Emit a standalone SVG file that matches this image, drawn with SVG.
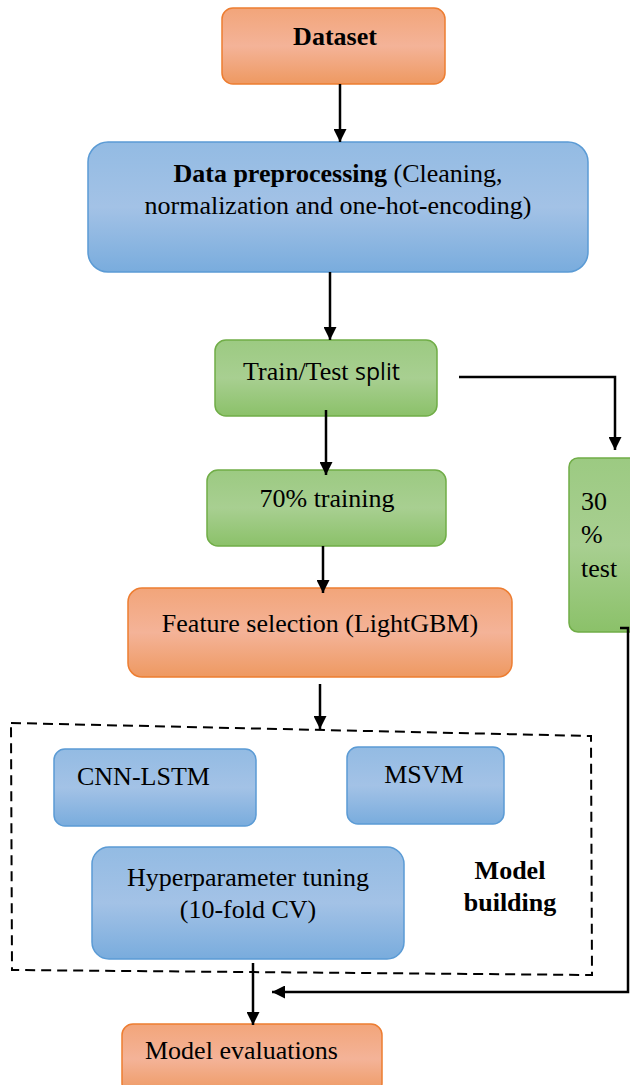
<svg xmlns="http://www.w3.org/2000/svg" width="630" height="1085" viewBox="0 0 630 1085">
  <style>
    text { font-family: "Liberation Serif", "Times New Roman", serif; font-size: 26px; fill: #000; }
    .b { font-weight: bold; }
    .sans { font-family: "Open Sans", "Liberation Sans", sans-serif; font-size: 23px; }
    .orange { fill: url(#gOrange); stroke: #ED7D31; stroke-width: 1.5; }
    .blue { fill: url(#gBlue); stroke: #5B9BD5; stroke-width: 1.5; }
    .green { fill: url(#gGreen); stroke: #70AD47; stroke-width: 1.5; }
    .conn { fill: none; stroke: #000; stroke-width: 2.5; }
    .dash { fill: none; stroke: #000; stroke-width: 2; stroke-dasharray: 10 6; }
  </style>
  <defs>
    <linearGradient id="gOrange" x1="0" y1="0" x2="0" y2="1">
      <stop offset="0" stop-color="#F2A57A"/>
      <stop offset="0.5" stop-color="#F4B398"/>
      <stop offset="1" stop-color="#EE9961"/>
    </linearGradient>
    <linearGradient id="gBlue" x1="0" y1="0" x2="0" y2="1">
      <stop offset="0" stop-color="#93BBE3"/>
      <stop offset="0.5" stop-color="#A3C2E6"/>
      <stop offset="1" stop-color="#79ACDD"/>
    </linearGradient>
    <linearGradient id="gGreen" x1="0" y1="0" x2="0" y2="1">
      <stop offset="0" stop-color="#9CCA82"/>
      <stop offset="0.5" stop-color="#A8CF91"/>
      <stop offset="1" stop-color="#8BC169"/>
    </linearGradient>
    <marker id="arrow" viewBox="0 0 10 10" refX="10" refY="5" markerWidth="5.2" markerHeight="5.2" orient="auto" markerUnits="strokeWidth">
      <path d="M0,0 L10,5 L0,10 Z" fill="#000"/>
    </marker>
  </defs>

  <!-- model building group outline -->
  <path class="dash" d="M11,723 L591,736 L592,975 L12,970 Z"/>

  <g id="dataset">
    <rect class="orange" x="222" y="8" width="223" height="76" rx="11"/>
    <text class="b" x="335" y="45" text-anchor="middle">Dataset</text>
  </g>

  <g id="preprocessing">
    <rect class="blue" x="88" y="142" width="500" height="130" rx="20"/>
    <text x="338" y="182" text-anchor="middle"><tspan class="b">Data preprocessing</tspan> (Cleaning,</text>
    <text x="338" y="214" text-anchor="middle">normalization and one-hot-encoding)</text>
  </g>

  <g id="split">
    <rect class="green" x="215" y="340" width="222" height="76" rx="11"/>
    <text x="243" y="380">Train/Test <tspan class="sans">split</tspan></text>
  </g>

  <g id="training">
    <rect class="green" x="207" y="470" width="239" height="76" rx="11"/>
    <text x="327" y="507" text-anchor="middle">70% training</text>
  </g>

  <g id="test">
    <rect class="green" x="569" y="458" width="70" height="174" rx="9"/>
    <text x="581" y="510">30</text>
    <text x="581" y="543">%</text>
    <text x="581" y="577">test</text>
  </g>

  <g id="feature-selection">
    <rect class="orange" x="128" y="588" width="384" height="89" rx="14"/>
    <text x="320" y="632" text-anchor="middle">Feature selection (LightGBM)</text>
  </g>

  <g id="cnn-lstm">
    <rect class="blue" x="54" y="749" width="202" height="77" rx="11"/>
    <text x="77" y="785">CNN-LSTM</text>
  </g>

  <g id="msvm">
    <rect class="blue" x="347" y="747" width="157" height="77" rx="11"/>
    <text x="424" y="783" text-anchor="middle">MSVM</text>
  </g>

  <g id="tuning">
    <rect class="blue" x="92" y="847" width="312" height="112" rx="17"/>
    <text x="248" y="886" text-anchor="middle">Hyperparameter tuning</text>
    <text x="248" y="918" text-anchor="middle">(10-fold CV)</text>
  </g>

  <g id="model-building-label">
    <text class="b" x="510" y="879" text-anchor="middle">Model</text>
    <text class="b" x="510" y="911" text-anchor="middle">building</text>
  </g>

  <g id="evaluations">
    <rect class="orange" x="122" y="1024" width="260" height="70" rx="11"/>
    <text x="145" y="1059">Model evaluations</text>
  </g>

  <g id="connectors">
    <line class="conn" x1="340" y1="84" x2="340" y2="142" marker-end="url(#arrow)"/>
    <line class="conn" x1="330" y1="272" x2="330" y2="340" marker-end="url(#arrow)"/>
    <line class="conn" x1="326" y1="410" x2="326" y2="475" marker-end="url(#arrow)"/>
    <polyline class="conn" points="459,377 615,377 615,450" marker-end="url(#arrow)"/>
    <line class="conn" x1="323" y1="546" x2="323" y2="593" marker-end="url(#arrow)"/>
    <line class="conn" x1="320" y1="684" x2="320" y2="729" marker-end="url(#arrow)"/>
    <line class="conn" x1="253" y1="963" x2="253" y2="1025" marker-end="url(#arrow)"/>
    <polyline class="conn" points="620,628 628,628 628,992 272,992" marker-end="url(#arrow)"/>
  </g>
</svg>
